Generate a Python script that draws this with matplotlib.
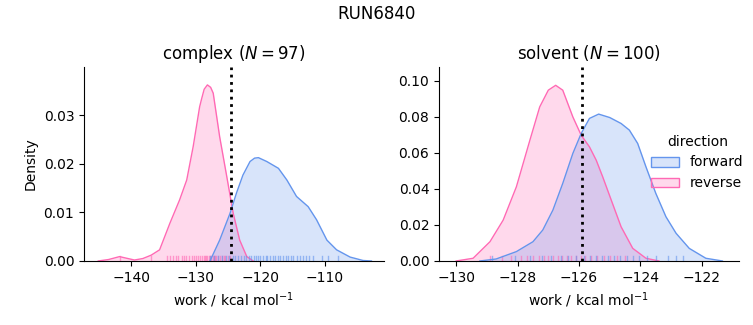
import matplotlib
matplotlib.use("Agg")
import matplotlib.pyplot as plt
from matplotlib.colors import to_rgb
from matplotlib.patches import Patch

# -------------------------------
# DATA
# -------------------------------
# complex phase, density curves
cx_rev_x = [-145.1, -143.5, -141.8, -140.5, -139.5, -138.2, -136.9, -135.6, -134.0, -132.5,
            -131.4, -130.4, -129.4, -129.1, -128.7, -128.2, -127.7, -127.3, -126.3, -125.2,
            -124.2, -123.2, -122.1, -121.1]
cx_rev_y = [0.0, 0.0003, 0.0009, 0.0005, 0.0002, 0.0005, 0.0012, 0.0023, 0.0078, 0.0126,
            0.0167, 0.0236, 0.0318, 0.0334, 0.0354, 0.0363, 0.0358, 0.0346, 0.0256, 0.0174,
            0.0098, 0.0043, 0.0009, 0.0]
cx_fwd_x = [-127.8, -126.3, -124.7, -123.7, -122.7, -121.6, -120.9, -120.3, -119.0, -117.2,
            -115.9, -114.4, -112.6, -111.3, -109.7, -108.2, -106.1, -104.1, -102.8]
cx_fwd_y = [0.0, 0.0043, 0.0098, 0.014, 0.0177, 0.0205, 0.0212, 0.0213, 0.0205, 0.0191,
            0.0167, 0.0133, 0.0112, 0.0085, 0.0043, 0.0023, 0.0008, 0.0001, 0.0]

# solvent phase, density curves
sv_rev_x = [-130.0, -129.45, -128.9, -128.47, -128.04, -127.6, -127.28, -127.0, -126.76,
            -126.53, -126.2, -125.93, -125.66, -125.44, -125.23, -124.95, -124.63, -124.25,
            -123.82, -123.4]
sv_rev_y = [0.0, 0.0015, 0.0107, 0.0227, 0.0412, 0.0671, 0.0856, 0.0949, 0.0976,
            0.0949, 0.080, 0.0699, 0.0634, 0.056, 0.0468, 0.0338, 0.019, 0.007,
            0.0015, 0.0]
sv_fwd_x = [-129.23, -128.7, -128.04, -127.5, -127.18, -126.85, -126.53, -126.2, -125.93,
            -125.66, -125.36, -125.0, -124.63, -124.36, -124.09, -123.82, -123.5, -123.17,
            -122.84, -122.41, -121.87, -121.33]
sv_fwd_y = [0.0, 0.0011, 0.0052, 0.0107, 0.0172, 0.0283, 0.0431, 0.0598, 0.0708,
            0.0792, 0.0816, 0.0797, 0.0764, 0.0727, 0.0653, 0.0523, 0.0376, 0.0246,
            0.0154, 0.007, 0.0015, 0.0]

# individual work values (rug)
cx_rev_rug = [-141.8, -136.9, -134.5, -134.0, -133.6, -133.1, -132.7, -132.2, -131.8, -131.5,
              -131.0, -130.6, -130.2, -129.9, -129.6, -129.3, -129.0, -128.8, -128.6, -128.4,
              -128.2, -128.0, -127.8, -127.6, -127.4, -127.2, -127.0, -126.8, -126.6, -126.3,
              -126.0, -125.7, -125.4, -125.0, -124.7]
cx_fwd_rug = [-127.8, -127.2, -126.5, -125.9, -125.3, -124.8, -124.3, -123.9, -123.4, -123.0,
              -122.6, -122.2, -121.8, -121.4, -121.0, -120.6, -120.3, -120.0, -119.6, -119.2,
              -118.9, -118.5, -118.1, -117.7, -117.3, -116.9, -116.5, -116.1, -115.7, -115.3,
              -114.9, -114.4, -113.9, -113.4, -112.9, -112.4, -111.9, -110.5, -109.5, -108.0]
sv_rev_rug = [-128.9, -128.5, -128.2, -127.9, -127.7, -127.5, -127.3, -127.15, -127.0, -126.85,
              -126.7, -126.55, -126.4, -126.25, -126.1, -125.95, -125.8, -125.6, -125.4, -125.2,
              -125.0, -124.75, -124.5]
sv_fwd_rug = [-128.85, -128.1, -127.6, -127.2, -126.9, -126.6, -126.35, -126.1, -125.85, -125.65,
              -125.45, -125.25, -125.05, -124.85, -124.65, -124.45, -124.25, -124.05, -123.8,
              -123.5, -123.1, -122.85, -122.6]

# free energy estimate (dotted line) and sample counts
cx_dg = -124.6
sv_dg = -125.9
phases = ["complex", "solvent"]
counts = [97, 100]
directions = ["forward", "reverse"]

fwd_color = "#6495ED"
rev_color = "#FF69B4"

# -------------------------------
# PLOT
# -------------------------------
fig = plt.figure(figsize=(7.53, 3.25), dpi=100)
ax1 = fig.add_axes([0.1116, 0.197, 0.398, 0.597])
ax2 = fig.add_axes([0.583, 0.197, 0.398, 0.597])

panels = [
    (ax1, cx_fwd_x, cx_fwd_y, cx_rev_x, cx_rev_y, cx_fwd_rug, cx_rev_rug, cx_dg),
    (ax2, sv_fwd_x, sv_fwd_y, sv_rev_x, sv_rev_y, sv_fwd_rug, sv_rev_rug, sv_dg),
]

for i, (ax, fx, fy, rx, ry, frug, rrug, dg) in enumerate(panels):
    # reverse drawn first, forward on top
    for x, y, rug, c in [(rx, ry, rrug, rev_color), (fx, fy, frug, fwd_color)]:
        ax.fill_between(x, y, color=c, alpha=0.25, linewidth=0)
        ax.plot(x, y, color=c, linewidth=1)
        for v in rug:
            ax.axvline(v, ymin=0, ymax=0.025, color=c, alpha=0.6, linewidth=1)
    ax.axvline(dg, color="black", linestyle=":", linewidth=2)
    ax.set_title(f"{phases[i]} ($N = {counts[i]}$)")
    ax.set_xlabel("work / kcal mol$^{-1}$")
    ax.spines["top"].set_visible(False)
    ax.spines["right"].set_visible(False)

ax1.set_xlim(-147.3, -100.9)
ax1.set_ylim(0, 0.040)
ax1.set_xticks([-140, -130, -120, -110])
ax1.set_yticks([0.0, 0.01, 0.02, 0.03])
ax1.set_yticklabels(["0.00", "0.01", "0.02", "0.03"])
ax1.set_ylabel("Density")

ax2.set_xlim(-130.56, -120.8)
ax2.set_ylim(0, 0.1078)
ax2.set_xticks([-130, -128, -126, -124, -122])
ax2.set_yticks([0.0, 0.02, 0.04, 0.06, 0.08, 0.10])
ax2.set_yticklabels(["0.00", "0.02", "0.04", "0.06", "0.08", "0.10"])

# legend patches: translucent face, opaque edge
handles = [Patch(facecolor=(*to_rgb(c), 0.25), edgecolor=c) for c in [fwd_color, rev_color]]
fig.legend(handles, directions, title="direction", loc="center right",
           bbox_to_anchor=(1.004, 0.5), frameon=False)

fig.suptitle("RUN6840", y=0.985)
fig.savefig("out.png", dpi=100)
